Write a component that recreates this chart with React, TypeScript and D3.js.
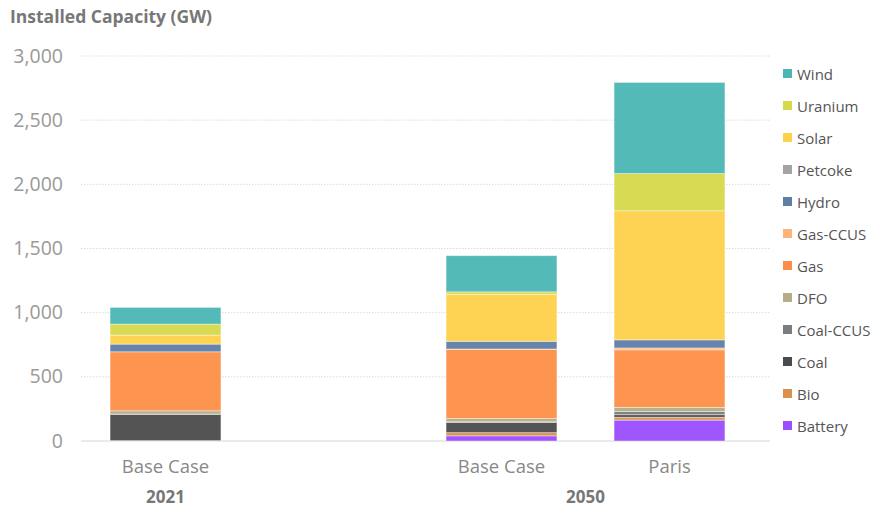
import React, { useRef, useEffect } from "react";
import * as d3 from "d3";

// categories along the x axis ("gap" is the empty slot between the years)
const categories = ["2021 Base Case", "gap", "2050 Base Case", "2050 Paris"];
const categoryLabels = ["Base Case", "", "Base Case", "Paris"];
const groups = [
  { label: "2021", from: "2021 Base Case", to: "2021 Base Case" },
  { label: "2050", from: "2050 Base Case", to: "2050 Paris" },
];

// fuel types, bottom of the stack first
const fuels = [
  "Battery", "Bio", "Coal", "Coal-CCUS", "DFO", "Gas",
  "Gas-CCUS", "Hydro", "Petcoke", "Solar", "Uranium", "Wind",
];
const colors = [
  "#9b4dff", "#d9914c", "#4b4b4b", "#7c7c7c", "#b4ad88", "#fd8e47",
  "#fdb47a", "#5f7ea6", "#a3a3a3", "#fed14a", "#d7d84b", "#4bb6b4",
];

// values in GW per bar, same order as fuels
const base2021 = [0, 3, 205, 2, 25, 460, 0, 60, 0, 70, 86, 130];
const base2050 = [40, 25, 80, 5, 25, 540, 2, 60, 0, 364, 21, 282];
const paris2050 = [163, 22, 20, 25, 32, 448, 15, 63, 0, 1006, 290, 710];

const yTicks = [0, 500, 1000, 1500, 2000, 2500, 3000];

export default function App() {
  const svgRef = useRef<SVGSVGElement | null>(null);

  useEffect(() => {
    const svg = d3.select(svgRef.current);
    svg.selectAll("*").remove();
    const font = "'Open Sans', Lato, sans-serif";

    const x = d3.scaleBand().domain(categories).range([81.5, 753.5]).paddingInner(0.34).paddingOuter(0.17);
    const y = d3.scaleLinear().domain([0, 3000]).range([441, 56]);

    const rows = [
      { cat: "2021 Base Case", vals: base2021 },
      { cat: "2050 Base Case", vals: base2050 },
      { cat: "2050 Paris", vals: paris2050 },
    ].map((r) => {
      const o: any = { cat: r.cat };
      fuels.forEach((f, i) => (o[f] = r.vals[i]));
      return o;
    });
    const series = d3.stack().keys(fuels)(rows);

    // title
    svg.append("text").attr("x", 10).attr("y", 23).text("Installed Capacity (GW)")
      .attr("font-family", font).attr("font-weight", "bold").attr("font-size", 17.5).attr("fill", "#777");

    // grid
    svg.append("g").selectAll("line").data(yTicks).join("line")
      .attr("x1", 81).attr("x2", 770)
      .attr("y1", (d) => y(d)).attr("y2", (d) => y(d))
      .attr("stroke", (d) => (d === 0 ? "#d6d6d6" : "#dcdcdc"))
      .attr("stroke-dasharray", (d) => (d === 0 ? null : "1.5,1.5"));

    svg.append("g").selectAll("text").data(yTicks).join("text")
      .attr("x", 63).attr("y", (d) => y(d) + 6.5).attr("text-anchor", "end")
      .text((d) => d3.format(",")(d))
      .attr("font-family", font).attr("font-size", 19.5).attr("fill", "#999");

    // bars
    svg.append("g").selectAll("g").data(series).join("g")
      .attr("fill", (_, i) => colors[i])
      .selectAll("rect").data((d) => d).join("rect")
      .attr("x", (d: any) => x(d.data.cat) ?? 0)
      .attr("width", x.bandwidth())
      .attr("y", (d) => y(d[1]))
      .attr("height", (d) => Math.max(0, y(d[0]) - y(d[1])))
      .attr("fill-opacity", 0.95)
      .attr("stroke", "#fff").attr("stroke-opacity", 0.5).attr("stroke-width", 0.8);

    // category labels
    svg.append("g").selectAll("text").data(categories).join("text")
      .attr("x", (d) => (x(d) ?? 0) + x.bandwidth() / 2).attr("y", 473)
      .attr("text-anchor", "middle").text((_, i) => categoryLabels[i])
      .attr("font-family", font).attr("font-size", 18.5).attr("fill", "#888");

    // group labels
    svg.append("g").selectAll("text").data(groups).join("text")
      .attr("x", (g) => ((x(g.from) ?? 0) + (x(g.to) ?? 0) + x.bandwidth()) / 2).attr("y", 503)
      .attr("text-anchor", "middle").text((g) => g.label)
      .attr("font-family", font).attr("font-weight", "bold").attr("font-size", 17).attr("fill", "#777");

    // legend, top entry is the top of the stack
    const legend = svg.append("g").selectAll("g").data(fuels.slice().reverse()).join("g")
      .attr("transform", (_, i) => `translate(783,${74 + i * 32})`);
    legend.append("rect").attr("x", 0).attr("y", -5).attr("width", 9).attr("height", 9)
      .attr("fill", (d) => colors[fuels.indexOf(d)]);
    legend.append("text").attr("x", 14).attr("y", 5.5).text((d) => d)
      .attr("font-family", font).attr("font-size", 15).attr("fill", "#555");
  }, []);

  return (
    <div>
      <svg ref={svgRef} width={878} height={508} style={{ display: "block", margin: "-8px 0 0 -8px" }} />
    </div>
  );
}
